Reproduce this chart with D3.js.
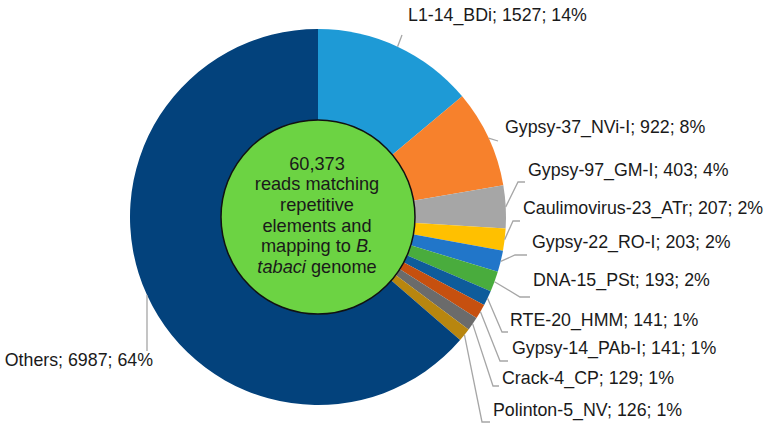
<!DOCTYPE html>
<html>
<head>
<meta charset="utf-8">
<script src="https://cdn.jsdelivr.net/npm/d3@7"></script>
<style>
  html, body { margin: 0; padding: 0; background: #fff; }
  svg { display: block; font-family: "Liberation Sans", Arial, sans-serif; }
</style>
</head>
<body>
<svg id="chart" width="773" height="430"></svg>
<script>
// ---- data ----
const categories = ["L1-14_BDi", "Gypsy-37_NVi-I", "Gypsy-97_GM-I", "Caulimovirus-23_ATr",
  "Gypsy-22_RO-I", "DNA-15_PSt", "RTE-20_HMM", "Gypsy-14_PAb-I", "Crack-4_CP",
  "Polinton-5_NV", "Others"];
const values = [1527, 922, 403, 207, 203, 193, 141, 141, 129, 126, 6987];
const centerLines = ["60,373", "reads matching", "repetitive", "elements and", "mapping to B.", "tabaci genome"];

// ---- styles / layout ----
const colors = ["#1E9AD6", "#F7812C", "#A6A6A6", "#FFC000", "#2176C9", "#49AC3D",
  "#0E5C9B", "#C6500F", "#6B6B6B", "#B8860F", "#03427C"];
// label text anchor (left-middle, or right for "end") and leader elbow points
const labelLayout = [
  { x: 408, y: 15, pts: [[402, 35]] },
  { x: 505, y: 127, pts: [[498, 141]] },
  { x: 528, y: 170, pts: [[518, 182], [525, 182]] },
  { x: 523, y: 208, pts: [[513, 221], [520, 221]] },
  { x: 532, y: 242, pts: [[515, 255], [527, 255]] },
  { x: 533, y: 280, pts: [[520, 297], [530, 297]] },
  { x: 510, y: 320, pts: [[502, 332], [508, 332]] },
  { x: 512, y: 348, pts: [[500, 361], [508, 361]] },
  { x: 502, y: 378, pts: [[493, 386], [499, 386]] },
  { x: 493, y: 410, pts: [[482, 422], [490, 422]] },
  { x: 153, y: 360, anchor: "end", pts: [[147, 351]] }
];
const cx = 318, cy = 217, R = 188, rInner = 97;
const fontSize = 17.8;
const centerFont = 18.2;

const svg = d3.select("#chart");
const g = svg.append("g").attr("transform", `translate(${cx},${cy})`);

const total = d3.sum(values);
const data = categories.map((c, i) => ({ name: c, value: values[i], i }));
const pie = d3.pie().value(d => d.value).sort(null).startAngle(0).endAngle(2 * Math.PI);
const arcs = pie(data);
const arc = d3.arc().innerRadius(0).outerRadius(R);
const edgeArc = d3.arc().innerRadius(R).outerRadius(R);

g.selectAll("path.slice").data(arcs).enter().append("path")
  .attr("class", "slice")
  .attr("d", arc)
  .attr("fill", d => colors[d.data.i]);

// leader lines
const line = d3.line();
g.selectAll("path.leader").data(arcs).enter().append("path")
  .attr("class", "leader")
  .attr("d", d => {
    const p0 = edgeArc.centroid(d);
    const pts = [p0].concat(labelLayout[d.data.i].pts.map(p => [p[0] - cx, p[1] - cy]));
    return line(pts);
  })
  .attr("fill", "none")
  .attr("stroke", "#A6A6A6")
  .attr("stroke-width", 1.3);

// labels
svg.selectAll("text.lbl").data(arcs).enter().append("text")
  .attr("class", "lbl")
  .attr("x", d => labelLayout[d.data.i].x)
  .attr("y", d => labelLayout[d.data.i].y)
  .attr("dy", "0.35em")
  .attr("text-anchor", d => labelLayout[d.data.i].anchor || "start")
  .attr("font-size", fontSize)
  .attr("fill", "#1a1a1a")
  .text(d => `${d.data.name}; ${d.data.value}; ${Math.round(d.data.value / total * 100)}%`);

// center circle
g.append("circle")
  .attr("r", rInner)
  .attr("fill", "#6CD343")
  .attr("stroke", "#111")
  .attr("stroke-width", 1.5);

const ct = g.append("text")
  .attr("text-anchor", "middle")
  .attr("font-size", centerFont)
  .attr("fill", "#1a1a1a");
const lh = 20.7;
centerLines.forEach((ln, k) => {
  const t = ct.append("tspan").attr("x", -1).attr("y", (k - 2.5) * lh - 2).attr("dy", "0.35em");
  if (ln.endsWith("B.")) {
    t.text(ln.slice(0, -2));
    ct.append("tspan").attr("font-style", "italic").text("B.");
  } else if (ln.startsWith("tabaci")) {
    t.attr("font-style", "italic").text("tabaci");
    ct.append("tspan").attr("font-style", "normal").text(ln.slice(6));
  } else {
    t.text(ln);
  }
});
</script>
</body>
</html>
